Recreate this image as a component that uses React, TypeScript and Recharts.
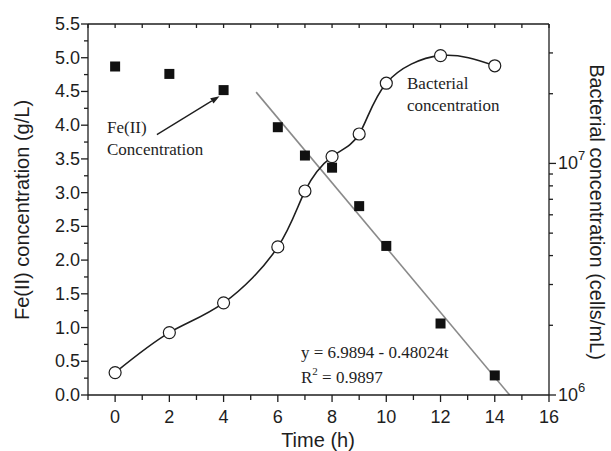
import React from 'react';
import { ComposedChart, Line, XAxis, YAxis, ReferenceLine } from 'recharts';

// sampling times (h)
const times = [0, 2, 4, 6, 7, 8, 9, 10, 12, 14];
// Fe(II) concentration, g/L
const feConc = [4.87, 4.76, 4.52, 3.97, 3.55, 3.37, 2.8, 2.21, 1.06, 0.29];
// bacterial concentration, cells/mL
const bacConc = [1.25e6, 1.86e6, 2.5e6, 4.36e6, 7.6e6, 1.07e7, 1.34e7, 2.22e7, 2.92e7, 2.64e7];

// linear fit drawn as a grey segment
const fitT = [5.2, 14.55];
const fitFe = [4.49, 0];

// arrow from the "Fe(II) Concentration" label to the t=4 point
const arrowFrom = { x: 1.54, y: 3.86 };
const arrowTo = { x: 3.85, y: 4.43 };

const xTicks = Array.from({ length: 18 }, (_, i) => i - 1);
const leftTicks = Array.from({ length: 23 }, (_, i) => i * 0.25);
const rightTicks = [1e6, 2e6, 3e6, 4e6, 5e6, 6e6, 7e6, 8e6, 9e6, 1e7, 2e7, 3e7];

const data = times.map((t, i) => ({ t, fe: feConc[i], bac: bacConc[i] }));
const fitData = fitT.map((t, i) => ({ t, fit: fitFe[i] }));

const INK = '#1e1e1e';
const SANS = '"Liberation Sans", Arial, sans-serif';
const SERIF = '"Liberation Serif", "Times New Roman", serif';

const BottomTick = (p: any) => {
  const v = p.payload.value;
  const major = v % 2 === 0;
  return (
    <g>
      <line x1={p.x} x2={p.x} y1={p.y} y2={p.y + (major ? 7 : 5)} stroke={INK} strokeWidth={1.3} />
      {major && (
        <text x={p.x} y={p.y + 22} textAnchor="middle" dominantBaseline="central" fontFamily={SANS} fontSize={18} fill={INK}>
          {v}
        </text>
      )}
    </g>
  );
};

const TopTick = (p: any) => (
  <line x1={p.x} x2={p.x} y1={p.y} y2={p.y + 4} stroke={INK} strokeWidth={1.3} />
);

const LeftTick = (p: any) => {
  const v = p.payload.value;
  const major = Math.abs(v * 2 - Math.round(v * 2)) < 1e-6;
  return (
    <g>
      <line x1={p.x} x2={p.x - (major ? 7 : 4)} y1={p.y} y2={p.y} stroke={INK} strokeWidth={1.3} />
      {major && (
        <text x={p.x - 8} y={p.y} textAnchor="end" dominantBaseline="central" fontFamily={SANS} fontSize={18} fill={INK}>
          {v.toFixed(1)}
        </text>
      )}
    </g>
  );
};

const RightTick = (p: any) => {
  const v = p.payload.value;
  const exp = Math.log10(v);
  const major = Math.abs(exp - Math.round(exp)) < 1e-6;
  return (
    <g>
      <line x1={p.x} x2={p.x + (major ? 7 : 4)} y1={p.y} y2={p.y} stroke={INK} strokeWidth={1.3} />
      {major && (
        <text x={p.x + 9} y={p.y + 6} fontFamily={SANS} fontSize={18} fill={INK}>
          10
          <tspan dy={-9} fontSize={13}>
            {Math.round(exp)}
          </tspan>
        </text>
      )}
    </g>
  );
};

const SquareDot = (p: any) => (
  <rect key={`sq-${p.index}`} x={p.cx - 5} y={p.cy - 5} width={10} height={10} fill="#111" />
);

const CircleDot = (p: any) => (
  <circle key={`ci-${p.index}`} cx={p.cx} cy={p.cy} r={6} fill="#fff" stroke={INK} strokeWidth={1.2} />
);

const Arrow = (p: any) => {
  const { x1, y1, x2, y2 } = p;
  const a = Math.atan2(y2 - y1, x2 - x1);
  const L = 9;
  const W = 3.2;
  const bx = x2 - L * Math.cos(a);
  const by = y2 - L * Math.sin(a);
  const nx = -Math.sin(a) * W;
  const ny = Math.cos(a) * W;
  return (
    <g>
      <line x1={x1} y1={y1} x2={bx} y2={by} stroke={INK} strokeWidth={1.3} />
      <polygon points={`${x2},${y2} ${bx + nx},${by + ny} ${bx - nx},${by - ny}`} fill={INK} />
    </g>
  );
};

export default function App() {
  return (
    <div style={{ position: 'absolute', left: 0, top: 0, width: 611, height: 451, background: '#fff' }}>
      <ComposedChart width={611} height={451} data={data} margin={{ top: 0, right: 0, bottom: 0, left: 0 }}>
        <XAxis
          xAxisId="b"
          dataKey="t"
          type="number"
          domain={[-1, 16]}
          allowDataOverflow
          ticks={xTicks}
          interval={0}
          height={56}
          tickSize={0}
          tickMargin={0}
          tickLine={false}
          tick={<BottomTick />}
          axisLine={{ stroke: INK, strokeWidth: 1.3 }}
        />
        <XAxis
          xAxisId="top"
          orientation="top"
          dataKey="t"
          type="number"
          domain={[-1, 16]}
          allowDataOverflow
          ticks={xTicks}
          interval={0}
          height={24}
          tickSize={0}
          tickMargin={0}
          tickLine={false}
          tick={<TopTick />}
          axisLine={{ stroke: INK, strokeWidth: 1.3 }}
        />
        <YAxis
          yAxisId="left"
          type="number"
          domain={[0, 5.5]}
          allowDataOverflow
          ticks={leftTicks}
          interval={0}
          width={88}
          tickSize={0}
          tickMargin={0}
          tickLine={false}
          tick={<LeftTick />}
          axisLine={{ stroke: INK, strokeWidth: 1.3 }}
        />
        <YAxis
          yAxisId="right"
          orientation="right"
          type="number"
          scale="log"
          domain={[1e6, 4e7]}
          allowDataOverflow
          ticks={rightTicks}
          interval={0}
          width={62}
          tickSize={0}
          tickMargin={0}
          tickLine={false}
          tick={<RightTick />}
          axisLine={{ stroke: INK, strokeWidth: 1.3 }}
        />
        <Line
          xAxisId="top"
          yAxisId="left"
          data={fitData}
          dataKey="fit"
          type="linear"
          stroke="#8a8a8a"
          strokeWidth={1.6}
          dot={false}
          activeDot={false}
          isAnimationActive={false}
        />
        <Line
          xAxisId="b"
          yAxisId="left"
          dataKey="fe"
          stroke="none"
          dot={SquareDot}
          activeDot={false}
          isAnimationActive={false}
        />
        <Line
          xAxisId="b"
          yAxisId="right"
          dataKey="bac"
          type="natural"
          stroke={INK}
          strokeWidth={1.6}
          dot={CircleDot}
          activeDot={false}
          isAnimationActive={false}
        />
        <ReferenceLine
          xAxisId="b"
          yAxisId="left"
          segment={[arrowFrom, arrowTo]}
          shape={Arrow}
        />
      </ComposedChart>
      <svg width={611} height={451} style={{ position: 'absolute', left: 0, top: 0, pointerEvents: 'none' }}>
        <text transform="translate(22,210) rotate(-90)" textAnchor="middle" dominantBaseline="central" fontFamily={SANS} fontSize={20} fill={INK}>
          Fe(II) concentration (g/L)
        </text>
        <text transform="translate(597,212) rotate(90)" textAnchor="middle" dominantBaseline="central" fontFamily={SANS} fontSize={20} fill={INK}>
          Bacterial concentration (cells/mL)
        </text>
        <text x={318} y={440} textAnchor="middle" dominantBaseline="central" fontFamily={SANS} fontSize={20} fill={INK}>
          Time (h)
        </text>
        <g fontFamily={SERIF} fontSize={17} fill={INK}>
          <text x={107} y={127} dominantBaseline="central">Fe(II)</text>
          <text x={107} y={149} dominantBaseline="central">Concentration</text>
          <text x={407} y={83} dominantBaseline="central">Bacterial</text>
          <text x={407} y={105} dominantBaseline="central">concentration</text>
          <text x={301} y={352} dominantBaseline="central">y = 6.9894 - 0.48024t</text>
          <text x={301} y={377} dominantBaseline="central">
            R<tspan dy={-6} fontSize={11}>2</tspan>
            <tspan dy={6}> = 0.9897</tspan>
          </text>
        </g>
      </svg>
    </div>
  );
}
